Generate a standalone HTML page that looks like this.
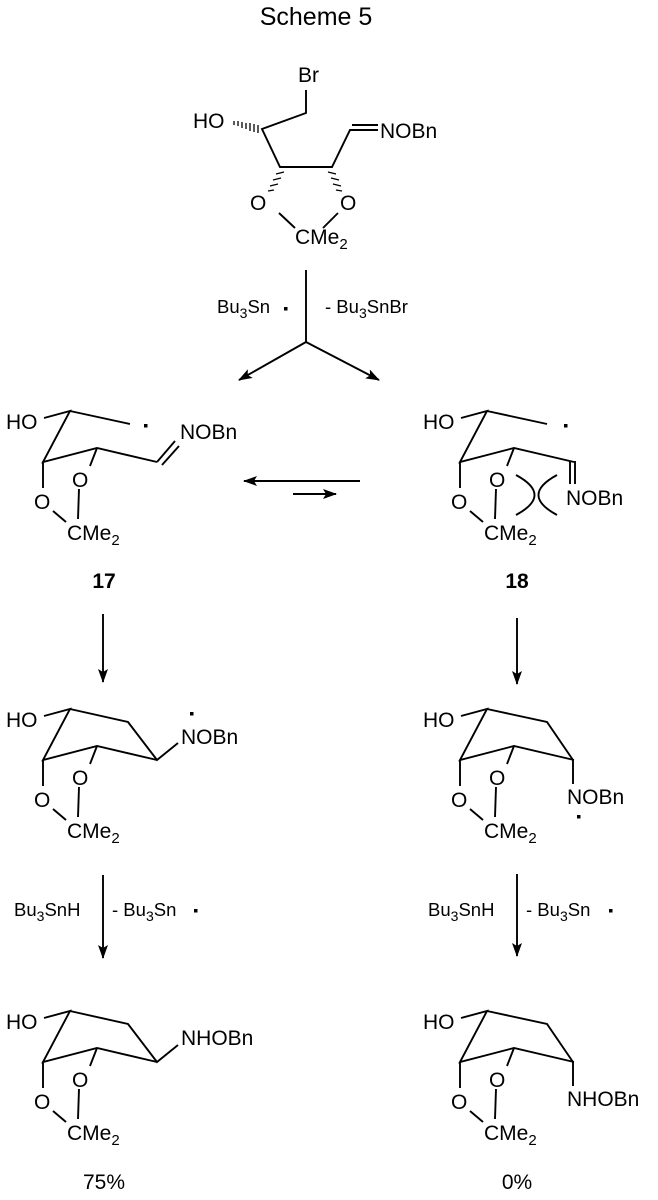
<!DOCTYPE html>
<html><head><meta charset="utf-8"><style>
html,body{margin:0;padding:0;background:#fff;}
svg{display:block;}
text{font-family:"Liberation Sans",Arial,sans-serif;fill:#000;}
.t{font-size:21px;}
.s{font-size:18.5px;}
</style></head><body>
<svg width="658" height="1200" viewBox="0 0 658 1200" xmlns="http://www.w3.org/2000/svg">
<defs>
<marker id="ah" markerWidth="14" markerHeight="10" refX="13" refY="5" orient="auto" markerUnits="userSpaceOnUse">
<path d="M0,0 L14,5 L0,10 L3,5 Z" fill="#000"/></marker>
</defs>
<text x="316" y="25" font-size="25" text-anchor="middle">Scheme 5</text>

<!-- top structure -->
<g stroke="#000" stroke-width="1.9" fill="none">
<path d="M306,90 L306,113 L262,129 L280,167 L332,167 L350,130 L378,130"/>
<path d="M352,125 L378,125"/>
<path d="M279,213 L295,228 M338,213 L323,228"/>
</g>
<g stroke="#000" stroke-width="1.3">
<path d="M258,125 L258,133 M254,124 L254,132 M250,123 L250,131 M246,123 L246,129 M242,122 L242,128 M238,121 L238,126 M234,121 L234,125"/>
<path d="M276,174 L284,172 M273,180 L281,178 M270,186 L278,184 M268,191 L274,190"/>
<path d="M328,172 L336,174 M331,178 L339,180 M333,184 L341,186 M336,190 L342,191"/>
</g>
<text class="t" x="298" y="82">Br</text>
<text class="t" x="193" y="128">HO</text>
<text class="t" x="380" y="138">NOBn</text>
<text class="t" x="250" y="210">O</text>
<text class="t" x="340" y="210">O</text>
<text class="t" x="295" y="244">CMe<tspan font-size="15" dy="5">2</tspan></text>

<!-- top arrows -->
<g stroke="#000" stroke-width="1.9" fill="none">
<path d="M306,270 L306,342"/>
<path d="M306,342 L239,380" marker-end="url(#ah)"/>
<path d="M306,342 L379,380" marker-end="url(#ah)"/>
<path d="M360,481 L244,481" marker-end="url(#ah)"/>
<path d="M293,494 L336,494" marker-end="url(#ah)"/>
</g>
<text class="s" x="217" y="313">Bu<tspan font-size="14" dy="5">3</tspan><tspan dy="-5">Sn</tspan></text>
<rect x="284" y="307" width="3.5" height="3.5" fill="#000"/>
<text class="s" x="325" y="313">- Bu<tspan font-size="14" dy="5">3</tspan><tspan dy="-5">SnBr</tspan></text>

<g id="sk" stroke="#000" stroke-width="1.9" fill="none">
<path d="M44,418 L70,411 L43,462 L97,448 L157,462"/>
<path d="M97,448 L90,466"/>
<path d="M43,462 L43,488"/>
<path d="M79,489 L78,519"/>
<path d="M53,511 L66,522"/>
</g>
<g id="sktext">
<text class="t" x="6" y="429">HO</text>
<text class="t" x="72" y="487">O</text>
<text class="t" x="34" y="509">O</text>
<text class="t" x="67" y="540">CMe<tspan font-size="15" dy="5">2</tspan></text>
</g>
<g stroke="#000" stroke-width="1.9" fill="none">
<path d="M70,411 L130,424"/>
<path d="M157,462 L175,441 M162,465 L179,446"/>
</g>
<rect x="144" y="424" width="3.5" height="3.5" fill="#000"/>
<text class="t" x="180" y="439">NOBn</text>
<text x="104" y="588" font-size="21" font-weight="bold" text-anchor="middle">17</text>

<g transform="translate(417,0)">
<use href="#sk"/><use href="#sktext"/>
</g>
<g stroke="#000" stroke-width="1.9" fill="none">
<path d="M487,411 L547,424"/>
<path d="M570,461 L570,484 M575,461 L575,484"/>
<path d="M516,475 Q553,495 516,515"/>
<path d="M557,475 Q520,495 557,515"/>
</g>
<rect x="564" y="424" width="3.5" height="3.5" fill="#000"/>
<text class="t" x="566" y="505">NOBn</text>
<text x="517" y="588" font-size="21" font-weight="bold" text-anchor="middle">18</text>

<g stroke="#000" stroke-width="1.9" fill="none">
<path d="M103,614 L103,682" marker-end="url(#ah)"/>
<path d="M517,618 L517,684" marker-end="url(#ah)"/>
<path d="M103,875 L103,958" marker-end="url(#ah)"/>
<path d="M517,874 L517,956" marker-end="url(#ah)"/>
</g>

<g transform="translate(0,298)"><use href="#sk"/><use href="#sktext"/></g>
<g stroke="#000" stroke-width="1.9" fill="none">
<path d="M70,709 L128,722 L157,760 L178,743"/>
</g>
<rect x="190" y="712" width="3.5" height="3.5" fill="#000"/>
<text class="t" x="181" y="744">NOBn</text>

<g transform="translate(417,298)"><use href="#sk"/><use href="#sktext"/></g>
<g stroke="#000" stroke-width="1.9" fill="none">
<path d="M487,709 L547,722 L573,760 L573,784"/>
</g>
<rect x="577" y="815" width="3.5" height="3.5" fill="#000"/>
<text class="t" x="567" y="804">NOBn</text>

<text class="s" x="14" y="916">Bu<tspan font-size="14" dy="5">3</tspan><tspan dy="-5">SnH</tspan></text>
<text class="s" x="112" y="916">- Bu<tspan font-size="14" dy="5">3</tspan><tspan dy="-5">Sn</tspan></text>
<rect x="194" y="909" width="3.5" height="3.5" fill="#000"/>
<text class="s" x="428" y="916">Bu<tspan font-size="14" dy="5">3</tspan><tspan dy="-5">SnH</tspan></text>
<text class="s" x="526" y="916">- Bu<tspan font-size="14" dy="5">3</tspan><tspan dy="-5">Sn</tspan></text>
<rect x="609" y="909" width="3.5" height="3.5" fill="#000"/>

<g transform="translate(0,600)"><use href="#sk"/><use href="#sktext"/></g>
<g stroke="#000" stroke-width="1.9" fill="none">
<path d="M70,1011 L128,1024 L157,1062 L178,1045"/>
</g>
<text class="t" x="181" y="1045">NHOBn</text>
<text class="t" x="104" y="1189" text-anchor="middle">75%</text>

<g transform="translate(417,600)"><use href="#sk"/><use href="#sktext"/></g>
<g stroke="#000" stroke-width="1.9" fill="none">
<path d="M487,1011 L547,1024 L573,1062 L573,1086"/>
</g>
<text class="t" x="567" y="1106">NHOBn</text>
<text class="t" x="517" y="1189" text-anchor="middle">0%</text>
</svg>
</body></html>
